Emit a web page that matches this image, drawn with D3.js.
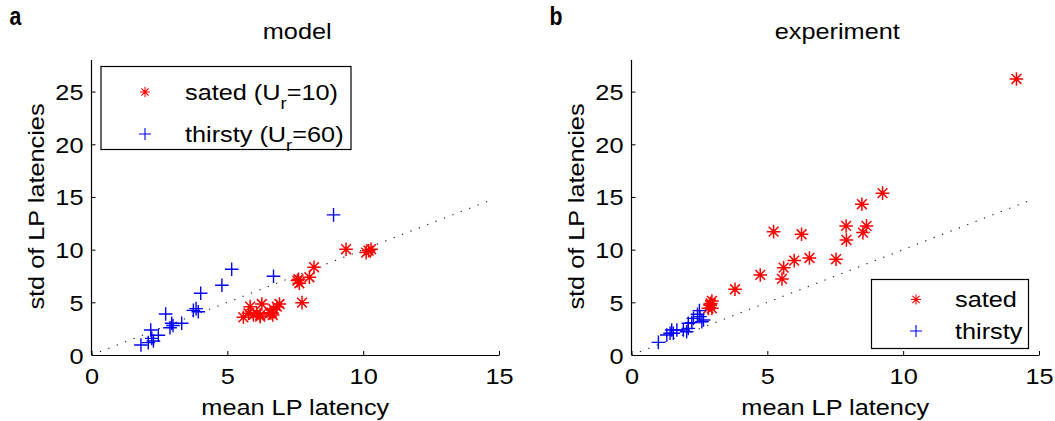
<!DOCTYPE html>
<html>
<head>
<meta charset="utf-8">
<script src="https://cdn.jsdelivr.net/npm/d3@7/dist/d3.min.js"></script>
<style>
body { margin: 0; background: #fff; }
svg text { font-family: "Liberation Sans", Arial, Helvetica, sans-serif; fill: #000; }
</style>
</head>
<body>
<div id="fig"></div>
<script>
// model panel (a)
var modelSatedX = [9.37, 10.11, 10.29, 10.2, 8.19, 8.02, 7.62, 7.65, 7.58, 7.75, 6.27, 6.92, 6.70, 6.57, 6.67, 6.21, 5.84, 5.59, 5.96, 6.08, 6.64, 6.82, 5.78, 6.21];
var modelSatedY = [10.04, 9.72, 10.04, 9.9, 8.33, 7.38, 7.19, 6.81, 7.06, 4.97, 4.84, 4.84, 4.34, 3.96, 3.80, 3.80, 4.59, 3.58, 3.80, 3.96, 4.02, 4.59, 3.96, 3.64];
var modelThirstyX = [8.91, 5.16, 4.80, 4.02, 6.70, 3.75, 3.93, 3.85, 2.73, 3.32, 2.95, 2.89, 3.0, 2.18, 2.46, 2.22, 2.28, 2.09, 1.82];
var modelThirstyY = [13.3, 8.14, 6.62, 5.86, 7.47, 4.24, 4.11, 4.4, 3.89, 3.01, 3.01, 2.59, 2.8, 2.37, 1.87, 1.58, 1.33, 1.17, 0.95];

// experiment panel (b)
var expSatedX = [14.17, 9.24, 8.48, 7.90, 8.65, 8.52, 7.91, 5.23, 6.26, 6.55, 7.53, 5.99, 5.60, 5.54, 4.74, 3.81, 2.96, 2.89, 2.96, 2.83, 2.92];
var expSatedY = [26.2, 15.36, 14.31, 12.25, 12.25, 11.62, 10.92, 11.71, 11.46, 9.21, 9.09, 8.96, 8.29, 7.22, 7.60, 6.24, 5.13, 4.75, 4.43, 4.43, 4.9];
var expThirstyX = [0.99, 1.30, 1.42, 1.48, 1.54, 1.67, 1.91, 2.03, 2.09, 2.09, 2.22, 2.28, 2.52, 2.43, 2.50, 2.65, 2.59];
var expThirstyY = [1.2, 1.90, 2.06, 2.37, 2.06, 2.37, 2.37, 2.21, 2.53, 3.01, 3.07, 3.48, 3.64, 3.87, 4.21, 3.32, 3.16];

// axes, ticks and the identity line
var xDomain = [0, 15];
var yDomain = [0, 28];
var xTicks = [0, 5, 10, 15];
var yTicks = [0, 5, 10, 15, 20, 25];
var diagLine = [0, 14.8];

var xLabel = "mean LP latency";
var yLabel = "std of LP latencies";

var W = 1055, H = 421;
var SX = 1.15; // glyphs in the reference are a bit wider than Arial
var FS = 22;
var RED = "#ff0000", BLUE = "#0000ff";

var svg = d3.select("#fig").append("svg").attr("width", W).attr("height", H);

function zip(xs, ys) {
    return xs.map(function (d, i) { return [d, ys[i]]; });
}

// text stretched horizontally around its anchor point
function stext(g, x, y, str, anchor) {
    return g.append("text")
        .attr("transform", "translate(" + x + "," + y + ") scale(" + SX + ",1)")
        .attr("text-anchor", anchor || "middle")
        .style("font-size", FS + "px")
        .text(str);
}

function starPath(r) {
    var d = r * 0.72;
    return "M" + (-r) + ",0H" + r + "M0," + (-r) + "V" + r +
        "M" + (-d) + "," + (-d) + "L" + d + "," + d +
        "M" + (-d) + "," + d + "L" + d + "," + (-d);
}
function plusPath(r) {
    return "M" + (-r) + ",0H" + r + "M0," + (-r) + "V" + r;
}

function drawPanel(p) {
    var x = d3.scaleLinear().domain(xDomain).range([p.left, p.left + 407.5]);
    var y = d3.scaleLinear().domain(yDomain).range([355, 60]);
    var g = svg.append("g");

    // identity line
    g.append("line")
        .attr("x1", x(diagLine[0])).attr("y1", y(diagLine[0]))
        .attr("x2", x(diagLine[1])).attr("y2", y(diagLine[1]))
        .attr("stroke", "#222").attr("stroke-width", 1.1)
        .attr("stroke-dasharray", "1.3,7.7");

    // axes (inward ticks)
    var xa = g.append("g").attr("transform", "translate(0,355)")
        .call(d3.axisBottom(x).tickValues(xTicks).tickSizeInner(-4).tickSizeOuter(0).tickPadding(0));
    var ya = g.append("g").attr("transform", "translate(" + p.left + ",0)")
        .call(d3.axisLeft(y).tickValues(yTicks).tickSizeInner(-4).tickSizeOuter(0).tickPadding(0));
    [xa, ya].forEach(function (a) {
        a.select(".domain").attr("stroke", "#000").attr("stroke-width", 1.2);
        a.selectAll(".tick line").attr("stroke", "#000");
        a.selectAll(".tick text").style("font-size", FS + "px").attr("font-family", null);
    });
    xa.selectAll(".tick text").attr("y", 0).attr("dy", null)
        .attr("transform", "translate(0,29) scale(" + SX + ",1)");
    ya.selectAll(".tick text").attr("x", 0).attr("dy", null)
        .attr("transform", "translate(-8,8) scale(" + SX + ",1)");
    // the y-axis reaches the top of the domain
    ya.select(".domain").attr("d", "M0," + y(yDomain[1]) + "V" + y(0));

    // markers
    g.append("g").selectAll("path").data(zip(p.sx, p.sy)).enter().append("path")
        .attr("transform", function (d) { return "translate(" + x(d[0]) + "," + y(d[1]) + ")"; })
        .attr("d", starPath(6.8))
        .attr("stroke", RED).attr("stroke-width", 1.5).attr("fill", "none");
    g.append("g").selectAll("path").data(zip(p.tx, p.ty)).enter().append("path")
        .attr("transform", function (d) { return "translate(" + x(d[0]) + "," + y(d[1]) + ")"; })
        .attr("d", plusPath(6.8))
        .attr("stroke", BLUE).attr("stroke-width", 1.4).attr("fill", "none");

    // labels
    var cx = (x.range()[0] + x.range()[1]) / 2;
    stext(g, cx + 2, 39, p.title, "middle");
    stext(g, cx, 414.5, xLabel, "middle");
    g.append("text")
        .attr("transform", "translate(" + (p.left - 48) + ",206.5) rotate(-90) scale(" + SX + ",1)")
        .attr("text-anchor", "middle").style("font-size", FS + "px").text(yLabel);
    g.append("text")
        .attr("transform", "translate(" + (p.left - 82) + ",25) scale(0.85,1.05)")
        .style("font-size", "25px").style("font-weight", "bold").text(p.letter);

    // legend
    var L = p.legend;
    g.append("rect").attr("x", L.x).attr("y", L.y).attr("width", L.w).attr("height", L.h)
        .attr("fill", "#fff").attr("stroke", "#000").attr("stroke-width", 1.2);
    var items = [[starPath(5), RED, L.labels[0], L.subs[0]], [plusPath(6), BLUE, L.labels[1], L.subs[1]]];
    items.forEach(function (it, i) {
        var yy = L.y + L.rows[i];
        g.append("path").attr("transform", "translate(" + (L.x + L.mx) + "," + yy + ")")
            .attr("d", it[0]).attr("stroke", it[1]).attr("stroke-width", 1.1).attr("fill", "none");
        var t = g.append("text")
            .attr("transform", "translate(" + (L.x + L.tx) + "," + (yy + 7.5) + ") scale(" + SX + ",1)")
            .style("font-size", FS + "px");
        if (it[3]) {
            t.append("tspan").text(it[2]);
            t.append("tspan").attr("dy", 9).style("font-size", "16px").text("r");
            t.append("tspan").attr("dy", -9).text(it[3]);
        } else {
            t.text(it[2]);
        }
    });
}

drawPanel({
    left: 91.5, title: "model", letter: "a",
    sx: modelSatedX, sy: modelSatedY, tx: modelThirstyX, ty: modelThirstyY,
    legend: { x: 101, y: 66.5, w: 250, h: 83, mx: 44, tx: 84, rows: [25.5, 67.5],
              labels: ["sated (U", "thirsty (U"], subs: ["=10)", "=60)"] }
});
drawPanel({
    left: 631.5, title: "experiment", letter: "b",
    sx: expSatedX, sy: expSatedY, tx: expThirstyX, ty: expThirstyY,
    legend: { x: 871.5, y: 279.5, w: 157, h: 69, mx: 44.5, tx: 83.5, rows: [20, 51.5],
              labels: ["sated", "thirsty"], subs: [null, null] }
});
</script>
</body>
</html>
